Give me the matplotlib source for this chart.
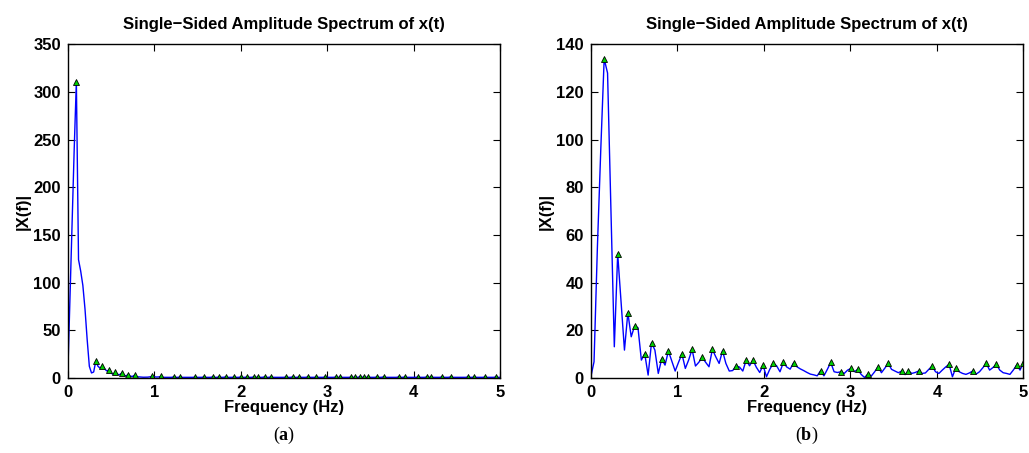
import matplotlib
matplotlib.use('Agg')
import matplotlib.pyplot as plt
import numpy as np

# Frequency grids of the two spectra (bin width fs / nfft)
df_a = 0.025       # Hz per bin, panel (a)
df_b = 10 / 256    # Hz per bin, panel (b)

# |X(f)|, one value per bin from 0 to 5 Hz
amp_a = [0, 80, 160, 240, 311, 124, 112, 97, 72, 40,
         12, 5, 6, 17.5, 12, 10, 12.5, 9.5, 7.2, 7.8,
         5, 3.5, 5.8, 3.5, 3.2, 4.9, 2.5, 2.0, 3.3, 1.5,
         1.4, 2.8, 1.0, 0.8, 0.6, 0.5, 0.5, 0.6, 0.9, 1.5,
         1.0, 0.7, 0.8, 1.3, 0.4, 0.4, 0.4, 0.4, 0.4, 0.9,
         0.4, 0.4, 0.9, 0.4, 0.4, 0.4, 0.4, 0.4, 0.4, 0.9,
         0.4, 0.4, 0.4, 0.9, 0.4, 0.4, 0.4, 0.9, 0.4, 0.4,
         0.9, 0.4, 0.4, 0.9, 0.4, 0.4, 0.4, 0.9, 0.4, 0.4,
         0.9, 0.4, 0.4, 0.9, 0.4, 0.4, 0.9, 0.4, 0.9, 0.4,
         0.4, 0.9, 0.4, 0.4, 0.9, 0.4, 0.4, 0.4, 0.4, 0.4,
         0.4, 0.9, 0.4, 0.4, 0.9, 0.4, 0.4, 0.9, 0.4, 0.4,
         0.4, 0.9, 0.4, 0.4, 0.4, 0.9, 0.4, 0.4, 0.4, 0.9,
         0.4, 0.4, 0.4, 0.4, 0.9, 0.4, 0.9, 0.4, 0.4, 0.4,
         0.4, 0.9, 0.4, 0.9, 0.4, 0.9, 0.4, 0.9, 0.4, 0.9,
         0.4, 0.4, 0.4, 0.9, 0.4, 0.4, 0.9, 0.4, 0.4, 0.4,
         0.4, 0.4, 0.4, 0.9, 0.4, 0.4, 0.9, 0.4, 0.4, 0.4,
         0.4, 0.4, 0.9, 0.4, 0.4, 0.4, 0.9, 0.4, 0.9, 0.4,
         0.4, 0.4, 0.4, 0.9, 0.4, 0.4, 0.4, 0.9, 0.4, 0.4,
         0.4, 0.4, 0.4, 0.4, 0.4, 0.9, 0.4, 0.4, 0.9, 0.4,
         0.4, 0.4, 0.4, 0.9, 0.4, 0.4, 0.4, 0.4, 0.9, 0.4,
         0.4]

# |X(f)|
amp_b = [0, 6.7, 55, 96, 134, 128, 70, 13, 52, 32,
         11.6, 27.3, 17.2, 21.7, 21, 7.4, 10, 1.1, 14.7, 11.6,
         1.8, 7.8, 5.3, 11.2, 7.0, 2.8, 6.5, 10, 3.9, 7.5,
         11.9, 4.9, 6.5, 8.5, 6.5, 4.6, 11.9, 8.8, 6, 11.3,
         6, 2.8, 3, 4.9, 4.5, 2.8, 7.4, 5, 7.4, 4.4,
         2.2, 5.2, 0.4, 3.6, 6, 5, 2.5, 6.4, 4.5, 3.6,
         6.2, 4.6, 3.7, 3.0, 2.2, 1.5, 1.2, 0.8, 2.9, 0.8,
         3.5, 6.4, 2.5, 2.2, 2.5, 1.8, 3.2, 3.9, 2.5, 3.5,
         1.4, 0.1, 1.5, 0.7, 2.5, 4.6, 2.1, 4.0, 6.0, 3.5,
         2.8, 2.1, 2.8, 1.3, 2.8, 1.8, 2.2, 2.8, 1.8, 2.0,
         3.5, 4.9, 2.5, 1.8, 3.2, 4.5, 5.6, 0.4, 4.2, 2.5,
         1.8, 1.4, 2.0, 2.8, 1.5, 2.5, 4.2, 6.0, 3.2, 4.3,
         5.6, 3.2, 2.1, 1.8, 1.4, 3.2, 5.3, 3.2, 6.3]

yticks_a = [0, 50, 100, 150, 200, 250, 300, 350]
yticks_b = [0, 20, 40, 60, 80, 100, 120, 140]
xticks = [0, 1, 2, 3, 4, 5]
title = 'Single\u2212Sided Amplitude Spectrum of x(t)'

plt.rcParams['font.family'] = 'Liberation Sans'
plt.rcParams['font.weight'] = 'bold'
plt.rcParams['mathtext.fontset'] = 'custom'
plt.rcParams['mathtext.rm'] = 'Liberation Serif'
plt.rcParams['mathtext.bf'] = 'Liberation Serif:bold'


def find_peaks(y):
    # local maxima, plus the last point if it is still rising
    idx = [i for i in range(1, len(y) - 1) if y[i] > y[i - 1] and y[i] > y[i + 1]]
    if y[-1] > y[-2]:
        idx.append(len(y) - 1)
    return idx


fig = plt.figure(figsize=(10.29, 4.53), dpi=100)
ax_a = fig.add_axes([0.0658, 0.1662, 0.4204, 0.7356])
ax_b = fig.add_axes([0.574, 0.1662, 0.4206, 0.7356])

panels = [(ax_a, amp_a, df_a, yticks_a, r'($\mathbf{a}$)'),
          (ax_b, amp_b, df_b, yticks_b, r'($\mathbf{b}$)')]

for ax, amp, df, yticks, tag in panels:
    amp = np.array(amp)
    freq = np.arange(len(amp)) * df
    pk = find_peaks(amp)
    ax.plot(freq, amp, color='#0000ff', lw=1.0)
    ax.plot(freq[pk], amp[pk], ls='none', marker='^', ms=4.5,
            mfc='#00d000', mec='black', mew=0.6)
    ax.set_xlim(0, 5)
    ax.set_ylim(yticks[0], yticks[-1])
    ax.set_xticks(xticks)
    ax.set_yticks(yticks)
    ax.tick_params(direction='in', length=5, width=0.8, top=True, right=True,
                   labelsize=12, pad=5)
    for s in ax.spines.values():
        s.set_linewidth(1.0)
    ax.set_title(title, fontsize=12, fontweight='bold', pad=11)
    ax.set_xlabel('Frequency (Hz)', fontsize=12, fontweight='bold', labelpad=0)
    ax.set_ylabel('|X(f)|', fontsize=12, fontweight='bold', labelpad=2)
    pos = ax.get_position()
    fig.text(pos.x0 + pos.width / 2, 0.016, tag, ha='center', va='bottom',
             family='Liberation Serif', fontweight='normal', fontsize=13)

plt.savefig('out.png', dpi=100)
